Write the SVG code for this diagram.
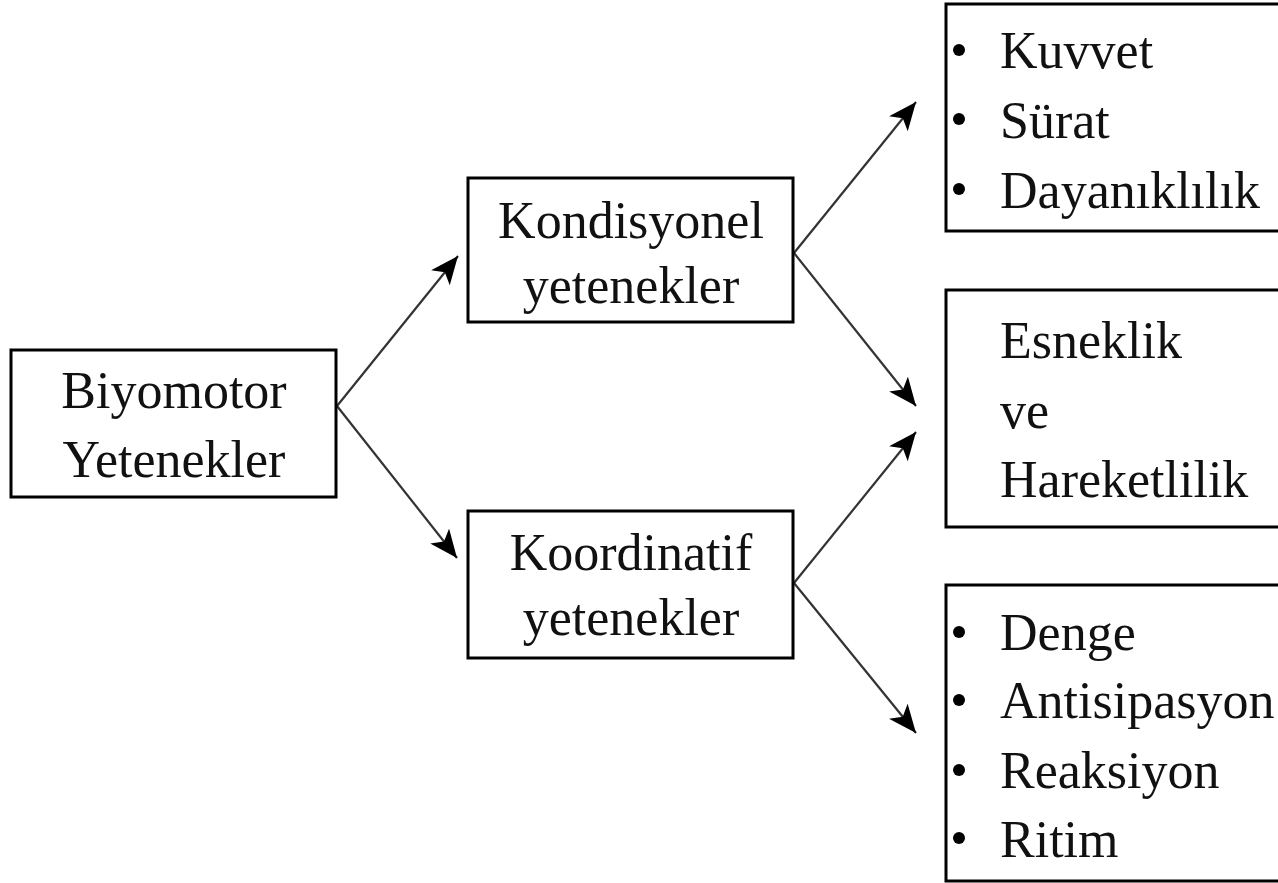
<svg xmlns="http://www.w3.org/2000/svg" width="1278" height="883" viewBox="0 0 1278 883">
<defs>
<style>
.box{fill:#fff;stroke:#000;stroke-width:3}
.t{font-family:"Liberation Serif","Times New Roman",serif;font-size:52px;fill:#111}
.c{text-anchor:middle}
.e{stroke:#333;stroke-width:2.2;fill:none;marker-end:url(#ah)}
.b{fill:#000}
</style>
<marker id="ah" markerUnits="userSpaceOnUse" markerWidth="30" markerHeight="26" refX="28" refY="12" orient="auto">
<path d="M0,0 L28,12 L0,24 L7,12 z" fill="#000"/>
</marker>
</defs>
<rect width="1278" height="883" fill="#fff"/>
<g id="connectors">
<line class="e" x1="337" y1="406" x2="458" y2="256"/>
<line class="e" x1="337" y1="406" x2="457" y2="558"/>
<line class="e" x1="794" y1="253" x2="916" y2="102"/>
<line class="e" x1="794" y1="253" x2="916" y2="406"/>
<line class="e" x1="794" y1="583" x2="916" y2="432"/>
<line class="e" x1="794" y1="583" x2="916" y2="733"/>
</g>
<g id="biyomotor">
<rect class="box" x="11" y="350" width="325" height="147"/>
<text class="t c" x="174" y="408">Biyomotor</text>
<text class="t c" x="174" y="477">Yetenekler</text>
</g>
<g id="kondisyonel">
<rect class="box" x="468" y="178" width="325" height="144"/>
<text class="t c" x="631" y="238">Kondisyonel</text>
<text class="t c" x="631" y="303">yetenekler</text>
</g>
<g id="koordinatif">
<rect class="box" x="468" y="511" width="325" height="147"/>
<text class="t c" x="631" y="570">Koordinatif</text>
<text class="t c" x="631" y="635">yetenekler</text>
</g>
<g id="kuvvet-box">
<rect class="box" x="946" y="4" width="345" height="227"/>
<circle class="b" cx="959" cy="50" r="6"/>
<circle class="b" cx="959" cy="119" r="6"/>
<circle class="b" cx="959" cy="189" r="6"/>
<text class="t" x="1000" y="68">Kuvvet</text>
<text class="t" x="1000" y="138">Sürat</text>
<text class="t" x="1000" y="208">Dayanıklılık</text>
</g>
<g id="esneklik-box">
<rect class="box" x="946" y="290" width="345" height="237"/>
<text class="t" x="1000" y="358">Esneklik</text>
<text class="t" x="1000" y="428">ve</text>
<text class="t" x="1000" y="497">Hareketlilik</text>
</g>
<g id="denge-box">
<rect class="box" x="946" y="585" width="345" height="296"/>
<circle class="b" cx="959" cy="632" r="6"/>
<circle class="b" cx="959" cy="700" r="6"/>
<circle class="b" cx="959" cy="770" r="6"/>
<circle class="b" cx="959" cy="838" r="6"/>
<text class="t" x="1000" y="650">Denge</text>
<text class="t" x="1000" y="718">Antisipasyon</text>
<text class="t" x="1000" y="788">Reaksiyon</text>
<text class="t" x="1000" y="857">Ritim</text>
</g>
</svg>
